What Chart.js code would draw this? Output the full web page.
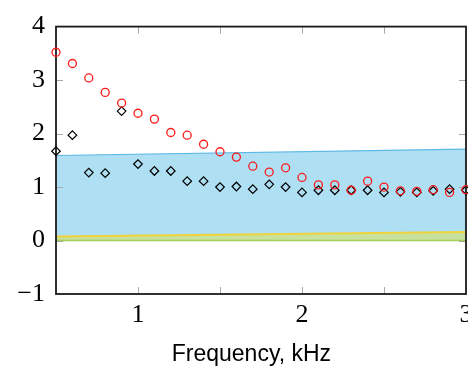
<!DOCTYPE html>
<html><head><meta charset="utf-8">
<script src="https://cdn.jsdelivr.net/npm/chart.js@4/dist/chart.umd.min.js"></script>
<style>
html,body{margin:0;padding:0;background:#fff;overflow:hidden;width:468px;height:370px}
#c{position:absolute;left:0;top:0;width:474px;height:370px}
</style></head><body>
<canvas id="c" width="474" height="370"></canvas>
<script>
// ---- data ----
const freq = [0.5,0.6,0.7,0.8,0.9,1.0,1.1,1.2,1.3,1.4,1.5,1.6,1.7,1.8,1.9,2.0,2.1,2.2,2.3,2.4,2.5,2.6,2.7,2.8,2.9,3.0];
const redVals = [3.52,3.31,3.04,2.77,2.57,2.38,2.27,2.02,1.97,1.80,1.66,1.56,1.39,1.28,1.36,1.18,1.04,1.04,0.94,1.11,1.00,0.93,0.92,0.95,0.90,0.95];
const blackVals = [1.67,1.97,1.27,1.26,2.42,1.43,1.30,1.30,1.11,1.11,1.00,1.01,0.96,1.05,1.00,0.90,0.94,0.94,0.94,0.94,0.90,0.91,0.90,0.93,0.96,0.94];
const bandX = [0.5, 3.0];
const blueUpper = [1.59, 1.71];
const yellowUpper = [0.075, 0.16];
const zeroLine = [0, 0];
const xLabelTicks = [1, 2, 3];
const xTickMarks = [1, 1.5, 2, 2.5];
const yTickMarks = [0, 1, 2, 3];
const xTitle = 'Frequency, kHz';

const pts = (xs, ys) => xs.map((x, i) => ({x: x, y: ys[i]}));

const framePlugin = {
  id: 'frame',
  beforeDatasetsDraw(chart) { chart.$frameDone = false; },
  beforeDatasetDraw(chart, args) {
    if (chart.$frameDone || !chart.data.datasets[args.index].marker) return;
    chart.$frameDone = true;
    const ctx = chart.ctx, a = chart.chartArea;
    const xs = chart.scales.x, ys = chart.scales.y;
    ctx.save();
    ctx.strokeStyle = '#a8a8a8';
    ctx.lineWidth = 1;
    const L = 7;
    xTickMarks.forEach(v => {
      const px = Math.round(xs.getPixelForValue(v)) + 0.5;
      ctx.beginPath();
      ctx.moveTo(px, a.bottom); ctx.lineTo(px, a.bottom - L);
      ctx.moveTo(px, a.top); ctx.lineTo(px, a.top + L);
      ctx.stroke();
    });
    yTickMarks.forEach(v => {
      const py = Math.round(ys.getPixelForValue(v)) + 0.5;
      ctx.beginPath();
      ctx.moveTo(a.left, py); ctx.lineTo(a.left + L, py);
      ctx.moveTo(a.right, py); ctx.lineTo(a.right - L, py);
      ctx.stroke();
    });
    ctx.strokeStyle = '#1a1a1a';
    ctx.lineWidth = 1.8;
    ctx.strokeRect(a.left, a.top, a.right - a.left, a.bottom - a.top);
    ctx.restore();
  }
};

new Chart(document.getElementById('c'), {
  type: 'scatter',
  data: {
    datasets: [
      {
        label: 'red', marker: true, data: pts(freq, redVals),
        pointStyle: 'circle', pointRadius: 4, borderColor: '#ff1a1a', backgroundColor: 'rgba(0,0,0,0)',
        pointBorderWidth: 1.3, order: 0, clip: false
      },
      {
        label: 'black', marker: true, data: pts(freq, blackVals),
        pointStyle: 'rectRot', pointRadius: 4.3, borderColor: '#000', backgroundColor: 'rgba(0,0,0,0)',
        pointBorderWidth: 1.2, order: 0, clip: false
      },
      {
        label: 'blue band', type: 'line', data: pts(bandX, blueUpper), showLine: true,
        borderColor: '#5cb8e6', borderWidth: 1.2, backgroundColor: '#aedff3',
        fill: 3, pointRadius: 0, order: 3
      },
      {
        label: 'yellow band', type: 'line', data: pts(bandX, yellowUpper), showLine: true,
        borderColor: '#f0d23a', borderWidth: 2, backgroundColor: '#c8e19c',
        fill: 4, pointRadius: 0, order: 2
      },
      {
        label: 'zero', type: 'line', data: pts(bandX, zeroLine), showLine: true,
        borderColor: '#a2cd5a', borderWidth: 1.5, fill: false, pointRadius: 0, order: 1
      }
    ]
  },
  options: {
    responsive: false, maintainAspectRatio: false, animation: false, devicePixelRatio: 1,
    layout: { padding: { top: 17, right: 8, left: 0, bottom: 0 } },
    plugins: { legend: { display: false }, tooltip: { enabled: false } },
    scales: {
      x: {
        type: 'linear', min: 0.5, max: 3,
        grid: { display: false, drawTicks: false }, border: { display: false },
        afterBuildTicks: s => { s.ticks = xLabelTicks.map(v => ({value: v})); },
        afterFit: s => { s.height = 76; s.paddingLeft = 0; s.paddingRight = 0; },
        ticks: { padding: 6, color: '#000', font: { family: 'Liberation Serif', size: 26 }, maxRotation: 0,
          callback: v => String(v) },
        title: { display: true, text: xTitle + '\u00a0\u00a0\u00a0', color: '#000',
          font: { family: 'Liberation Sans', size: 23 }, padding: { top: 0, bottom: 2 } }
      },
      y: {
        type: 'linear', min: -1, max: 4,
        grid: { display: false, drawTicks: false }, border: { display: false },
        afterFit: s => { s.width = 56; },
        ticks: { stepSize: 1, padding: 11, color: '#000', font: { family: 'Liberation Serif', size: 26 },
          callback: v => v < 0 ? '\u2212' + Math.abs(v) : String(v) }
      }
    }
  },
  plugins: [framePlugin]
});
</script>
</body></html>
